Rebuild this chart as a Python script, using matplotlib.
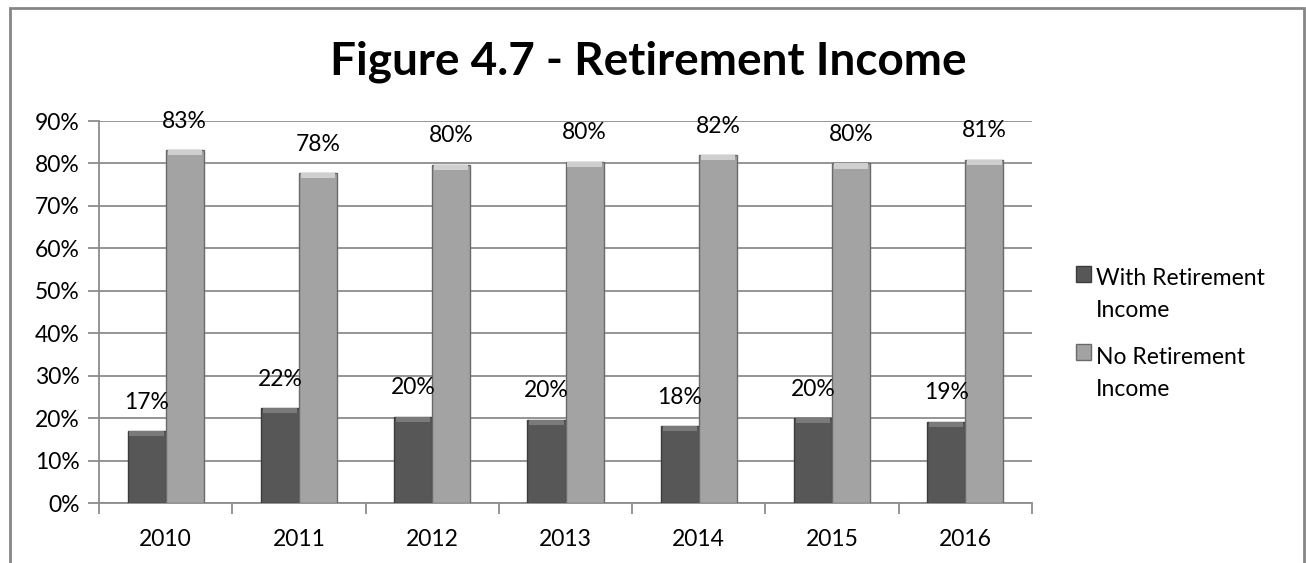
import matplotlib.pyplot as plt
import numpy as np
from matplotlib.patches import Rectangle
from matplotlib.legend_handler import HandlerPatch

plt.rcParams['font.family'] = ['Lato', 'DejaVu Sans']

# ===== Data =====
years = ['2010', '2011', '2012', '2013', '2014', '2015', '2016']
with_income = [16.9, 22.3, 20.3, 19.6, 18.1, 20.0, 19.1]
no_income = [83.1, 77.7, 79.7, 80.4, 81.9, 80.0, 80.9]
series_labels = ['With Retirement\nIncome', 'No Retirement\nIncome']
title = 'Figure 4.7 - Retirement Income'

# ===== Figure =====
W, H = 1306, 563
FS = 16.5
fig = plt.figure(figsize=(W / 100, H / 100), dpi=100)
ax = fig.add_axes([99 / W, 1 - 503 / H, (1032 - 99) / W, (503 - 121) / H])

grid_col = '#8c8c8c'
dark_col = '#575757'
light_col = '#a3a3a3'

x = np.arange(len(years))
w = 0.286
vals_a = np.array(with_income) / 100
vals_b = np.array(no_income) / 100

bars_a = ax.bar(x - w / 2, vals_a, w, color=dark_col, edgecolor='#3c3c3c',
                linewidth=1, zorder=3)
bars_b = ax.bar(x + w / 2, vals_b, w, color=light_col, edgecolor='#6a6a6a',
                linewidth=1, zorder=3)

# lighter bevel band on the bar tops
cap = 0.012
ax.bar(x - w / 2, cap, w * 0.9, bottom=vals_a - cap, color='#7a7a7a',
       linewidth=0, zorder=4)
ax.bar(x + w / 2, cap, w * 0.9, bottom=vals_b - cap, color='#cfcfcf',
       linewidth=0, zorder=4)

# data labels
for xs, vs in [(x - w / 2, vals_a), (x + w / 2, vals_b)]:
    for xi, v in zip(xs, vs):
        ax.annotate(f'{v * 100:.0f}%', (xi, v), xytext=(0, 29),
                    textcoords='offset pixels', ha='center', va='center',
                    fontsize=FS, color='black', zorder=5)

# axes
ax.set_xlim(-0.5, len(years) - 0.5)
ax.set_ylim(0, 0.9)
ax.set_yticks(np.arange(0, 0.91, 0.1))
ax.set_yticklabels([f'{t}%' for t in range(0, 91, 10)], fontsize=FS)
ax.yaxis.grid(True, color=grid_col, linewidth=1.3, zorder=0)
ax.set_axisbelow(True)

ax.set_xticks(x)
ax.set_xticklabels(years, fontsize=FS)
ax.tick_params(axis='x', which='major', length=0, pad=19)
ax.set_xticks(np.arange(-0.5, len(years), 1), minor=True)
ax.tick_params(axis='x', which='minor', length=8, width=1.3, color=grid_col)
ax.tick_params(axis='y', length=8, width=1.3, color=grid_col, pad=6)

for s in ['top', 'right']:
    ax.spines[s].set_visible(False)
for s in ['left', 'bottom']:
    ax.spines[s].set_color(grid_col)
    ax.spines[s].set_linewidth(1.3)


# legend: square marker aligned with the first text line
def top_square(legend, orig_handle, xdescent, ydescent, width, height, fontsize):
    s = 0.68 * fontsize
    lift = 0.95 * fontsize
    return Rectangle((-xdescent, lift), s, s)


leg = ax.legend(handles=[bars_a.patches[0], bars_b.patches[0]],
                labels=series_labels, loc='center left',
                bbox_to_anchor=(1055 / W, 1 - 334 / H),
                bbox_transform=fig.transFigure, frameon=False, fontsize=FS,
                handlelength=0.75, handleheight=0.7, handletextpad=0.15,
                labelspacing=1.1,
                handler_map={Rectangle: HandlerPatch(patch_func=top_square)})
for t in leg.get_texts():
    t.set_linespacing(1.65)

# title
fig.text(648 / W, 1 - 62 / H, title, ha='center', va='center',
         fontsize=33, fontweight='bold')

# outer chart frame
fig.patches.append(Rectangle((10 / W, -0.1), (1304 - 10) / W, 1.1 - 8 / H,
                             transform=fig.transFigure, fill=False,
                             edgecolor='#868686', linewidth=2))

fig.savefig('out.png', dpi=100, facecolor='white')
